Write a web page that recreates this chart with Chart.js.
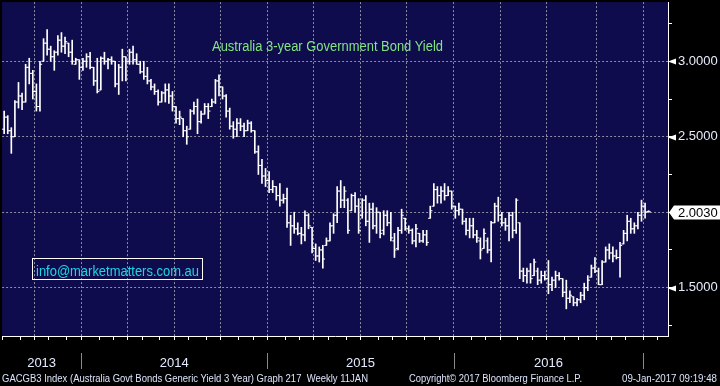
<!DOCTYPE html>
<html><head><meta charset="utf-8">
<script src="https://cdn.jsdelivr.net/npm/chart.js@4.4.1/dist/chart.umd.min.js"></script>
<style>
html,body{margin:0;padding:0;background:#000;}
#wrap{position:relative;width:720px;height:386px;overflow:hidden;background:#000;font-family:"Liberation Sans",Arial,sans-serif;}
canvas{position:absolute;left:0;top:0;}
.t{position:absolute;white-space:pre;line-height:1;transform-origin:0 50%;}
#title{left:212px;top:39px;font-size:14px;color:#84e484;}
#email{position:absolute;left:32px;top:258px;width:171px;height:22px;box-sizing:border-box;border:1px solid #fff;}
#emailTxt{left:36px;top:264px;font-size:14px;color:#1fd6e6;}
.f{top:374px;font-size:10px;color:#dde4fa;}
</style></head>
<body><div id="wrap">
<canvas id="c" width="720" height="386"></canvas>
<div id="title" class="t">Australia 3-year Government Bond Yield</div>
<div id="email"></div>
<div id="emailTxt" class="t">info@marketmatters.com.au</div>
<div id="f1" class="t f" style="left:2px">GACGB3 Index (Australia Govt Bonds Generic Yield 3 Year) Graph 217  Weekly 11JAN</div>
<div id="f2" class="t f" style="left:409px">Copyright© 2017 Bloomberg Finance L.P.</div>
<div id="f3" class="t f" style="left:622px">09-Jan-2017 09:19:48</div>
</div>
<script>
// ---- data: weekly bars (week ending Friday), first bar 2 Aug 2013, last 13 Jan 2017 ----
const firstWeek = '2013-08-02';
const highs = [2.67,2.64,2.56,2.74,2.86,2.79,2.98,3.02,2.94,2.85, 3.00,3.15,3.21,3.10,3.07,3.17,3.19,3.16,3.12,3.14,
 3.02,3.01,3.02,3.05,3.06,2.96,3.02,3.03,3.06,3.02, 3.03,3.00,2.98,3.08,3.03,3.08,3.10,3.05,3.00,3.00,
 2.96,2.88,2.85,2.81,2.80,2.85,2.85,2.80,2.70,2.67, 2.62,2.57,2.68,2.73,2.75,2.67,2.72,2.72,2.75,2.88,
 2.91,2.83,2.78,2.69,2.60,2.62,2.62,2.59,2.61,2.60, 2.54,2.44,2.35,2.29,2.27,2.21,2.17,2.19,2.12,2.16,
 1.98,2.00,1.93,1.90,2.01,1.99,1.90,1.79,1.77,1.78, 1.83,1.93,1.99,2.17,2.21,2.17,2.09,2.12,2.13,2.09,
 2.09,2.11,2.06,2.06,2.03,2.00,2.01,2.01,2.00,1.86, 1.90,2.02,1.96,1.91,1.89,1.92,1.86,1.88,1.88,2.04,
 2.19,2.17,2.17,2.19,2.17,2.14,2.04,2.06,2.02,1.96, 1.96,1.96,1.88,1.83,1.89,1.83,1.94,2.06,2.10,2.00,
 1.96,2.00,2.00,2.09,1.93,1.63,1.63,1.66,1.69,1.63, 1.61,1.61,1.68,1.57,1.61,1.60,1.56,1.55,1.48,1.44,
 1.43,1.47,1.53,1.58,1.65,1.70,1.63,1.68,1.77,1.79, 1.77,1.75,1.80,1.88,1.98,1.96,1.93,2.00,2.08,2.06,
 2.01];
const lows = [2.52,2.52,2.39,2.50,2.69,2.68,2.73,2.85,2.75,2.67, 2.67,3.00,3.04,3.00,2.94,3.04,3.06,3.05,3.03,2.98,
 2.98,2.88,2.94,2.96,2.95,2.84,2.79,2.81,2.98,2.95, 2.98,2.83,2.78,2.87,2.87,2.98,2.98,2.98,2.92,2.88,
 2.85,2.81,2.78,2.71,2.73,2.73,2.72,2.67,2.59,2.58, 2.50,2.45,2.55,2.65,2.52,2.59,2.65,2.62,2.70,2.72,
 2.77,2.75,2.63,2.55,2.49,2.50,2.54,2.50,2.54,2.53, 2.39,2.25,2.19,2.17,2.13,2.13,2.08,2.04,2.06,1.90,
 1.78,1.86,1.85,1.79,1.81,1.89,1.73,1.68,1.67,1.63, 1.78,1.81,1.86,1.93,2.03,2.03,1.86,2.01,2.00,1.86,
 1.96,1.91,1.80,1.89,1.86,1.83,1.85,1.91,1.81,1.70, 1.75,1.86,1.88,1.86,1.79,1.77,1.80,1.80,1.78,1.96,
 2.04,2.06,2.06,2.08,2.11,2.02,1.96,1.98,1.92,1.85, 1.83,1.83,1.80,1.69,1.76,1.73,1.67,1.93,1.94,1.91,
 1.88,1.81,1.83,1.86,1.56,1.54,1.53,1.53,1.58,1.52, 1.53,1.55,1.46,1.48,1.50,1.55,1.44,1.36,1.40,1.38,
 1.38,1.40,1.42,1.48,1.57,1.60,1.52,1.52,1.67,1.69, 1.67,1.69,1.57,1.79,1.81,1.86,1.86,1.89,1.94,1.96,
 2.00];
const opens = [2.55,2.63,2.54,2.50,2.73,2.77,2.73,2.96,2.92,2.80, 2.70,3.00,3.12,3.08,3.03,3.06,3.14,3.10,3.12,3.06,
 2.98,3.01,2.96,3.00,3.03,2.96,2.87,2.81,3.02,3.00, 3.01,3.00,2.85,2.96,3.03,3.00,3.06,3.01,2.98,2.93,
 2.90,2.87,2.83,2.80,2.73,2.79,2.81,2.77,2.70,2.62, 2.62,2.54,2.55,2.67,2.70,2.60,2.65,2.70,2.70,2.73,
 2.87,2.83,2.77,2.67,2.57,2.55,2.59,2.57,2.54,2.59, 2.54,2.40,2.31,2.24,2.21,2.15,2.17,2.11,2.08,2.09,
 1.93,1.91,1.89,1.86,1.85,1.98,1.90,1.76,1.71,1.75, 1.78,1.81,1.91,1.98,2.14,2.08,2.08,2.01,2.11,2.04,
 1.98,2.08,1.94,2.02,1.91,2.00,1.88,1.98,1.93,1.81, 1.76,1.88,1.96,1.89,1.88,1.81,1.86,1.81,1.85,1.96,
 2.04,2.15,2.11,2.14,2.11,2.14,2.04,2.01,2.02,1.94, 1.88,1.91,1.85,1.81,1.76,1.81,1.75,1.93,2.04,1.98,
 1.93,1.91,1.98,1.88,1.93,1.61,1.58,1.61,1.58,1.61, 1.55,1.58,1.56,1.52,1.55,1.58,1.56,1.47,1.43,1.44,
 1.40,1.42,1.45,1.50,1.57,1.63,1.61,1.52,1.67,1.75, 1.73,1.71,1.70,1.79,1.86,1.94,1.89,1.91,1.98,2.04,
 2.005];
const closes = [2.63,2.54,2.50,2.73,2.77,2.73,2.96,2.92,2.80,2.70, 2.98,3.12,3.08,3.03,3.06,3.14,3.10,3.13,3.06,3.00,
 3.01,2.96,3.00,3.03,2.96,2.87,2.80,3.02,3.00,3.01, 3.00,2.85,2.96,3.03,3.00,3.06,3.01,2.98,2.93,2.90,
 2.87,2.83,2.80,2.73,2.79,2.81,2.77,2.70,2.62,2.63, 2.54,2.50,2.67,2.70,2.60,2.65,2.70,2.67,2.73,2.87,
 2.83,2.77,2.67,2.57,2.55,2.59,2.57,2.54,2.59,2.54, 2.40,2.31,2.24,2.21,2.15,2.17,2.11,2.08,2.09,1.93,
 1.91,1.89,1.86,1.85,1.98,1.91,1.76,1.71,1.75,1.69, 1.81,1.91,1.98,2.14,2.08,2.14,1.88,2.11,2.04,1.88,
 2.08,1.94,2.02,1.91,2.00,1.86,1.98,1.93,1.83,1.75, 1.88,1.98,1.89,1.88,1.81,1.89,1.81,1.85,1.80,2.01,
 2.15,2.11,2.14,2.11,2.14,2.04,2.01,2.02,1.94,1.88, 1.91,1.85,1.83,1.75,1.86,1.75,1.93,2.04,1.98,1.93,
 1.91,1.98,1.88,2.08,1.61,1.58,1.61,1.56,1.67,1.55, 1.58,1.56,1.52,1.55,1.58,1.56,1.47,1.43,1.45,1.40,
 1.42,1.45,1.50,1.55,1.63,1.61,1.52,1.67,1.75,1.73, 1.71,1.70,1.78,1.86,1.94,1.89,1.91,1.98,2.04,2.00,
 2.003];
const yTickValues = [1.25,1.5,1.75,2.0,2.25,2.5,2.75,3.0,3.25];
const yTickLabels = ['','1.5000','','','','2.5000','','3.0000',''];
const yearLabels = ['2013','2014','2015','2016'];

// ---- categories: week-ending dates ----
const d0 = new Date(firstWeek + 'T00:00:00Z');
const weekDates = [];
for (let i = 0; i < 186; i++) weekDates.push(new Date(d0.getTime() + i * 7 * 86400000));
const n = highs.length;

// axis structure derived from the weekly categories
const xMin = -0.576, xMax = 185.4;
const monthTicks = [], quarterTicks = new Set(), yearBounds = [];
weekDates.forEach((d, i) => {
  const m = d.getUTCMonth();
  if (i === 0 || m !== weekDates[i - 1].getUTCMonth()) {
    const v = i - 0.5;
    if (v >= xMin && v <= xMax) {
      monthTicks.push(v);
      if (m % 3 === 0) quarterTicks.add(v);
      if (m === 0) yearBounds.push(v);
    }
  }
});
const yearMids = [(xMin + yearBounds[0]) / 2];
for (let k = 0; k < yearBounds.length - 1; k++) yearMids.push((yearBounds[k] + yearBounds[k + 1]) / 2);

const gridColor = '#8e8ea2';
const navy = '#0f0c4d';
const FONT = '"Liberation Sans", Arial, sans-serif';

const decor = {
  id: 'decor',
  beforeDraw(chart) {
    const {ctx, chartArea: a} = chart;
    ctx.save();
    ctx.fillStyle = '#000';
    ctx.fillRect(0, 0, chart.width, chart.height);
    ctx.fillStyle = navy;
    ctx.fillRect(a.left, a.top, a.right - a.left, a.bottom - a.top);
    ctx.restore();
  },
  afterDraw(chart) {
    const {ctx, chartArea: a} = chart;
    const ys = chart.scales.y, xs = chart.scales.x;
    ctx.save();
    // tick pointers
    ctx.fillStyle = '#fff';
    yTickValues.forEach((v, i) => {
      if (!yTickLabels[i]) return;
      const y = Math.round(ys.getPixelForValue(v)) + 0.5;
      ctx.beginPath();
      ctx.moveTo(a.right, y);
      ctx.lineTo(a.right + 8, y - 3);
      ctx.lineTo(a.right + 8, y + 3);
      ctx.closePath();
      ctx.fill();
    });
    // last price tag
    const last = closes[n - 1];
    const yl = Math.round(ys.getPixelForValue(last)) + 0.5;
    ctx.beginPath();
    ctx.moveTo(a.right + 1, yl);
    ctx.lineTo(a.right + 6, yl - 7);
    ctx.lineTo(720, yl - 7);
    ctx.lineTo(720, yl + 7);
    ctx.lineTo(a.right + 6, yl + 7);
    ctx.closePath();
    ctx.fill();
    ctx.fillStyle = '#000';
    ctx.font = '13px ' + FONT;
    ctx.textBaseline = 'middle';
    ctx.textAlign = 'left';
    ctx.fillText(last.toFixed(4), a.right + 10, yl + 0.5);
    // year separators
    ctx.strokeStyle = '#8a8a8a';
    ctx.lineWidth = 1;
    yearBounds.forEach(v => {
      const x = Math.round(xs.getPixelForValue(v)) + 0.5;
      ctx.beginPath();
      ctx.moveTo(x, 353);
      ctx.lineTo(x, 369);
      ctx.stroke();
    });
    ctx.restore();
  }
};

new Chart(document.getElementById('c'), {
  data: {
    datasets: [
      {
        type: 'bar',
        data: highs.map((h, i) => ({x: i, y: [lows[i], h]})),
        backgroundColor: '#ffffff',
        borderWidth: 0,
        barThickness: 1,
        grouped: false,
        order: 2
      },
      {
        type: 'scatter',
        data: opens.map((o, i) => ({x: i - 0.3, y: o})),
        pointStyle: 'line',
        pointRadius: 1.1,
        pointHoverRadius: 1.1,
        borderColor: '#ffffff',
        borderWidth: 1,
        order: 1
      },
      {
        type: 'scatter',
        data: closes.map((c, i) => ({x: i + 0.3, y: c})),
        pointStyle: 'line',
        pointRadius: 1.1,
        pointHoverRadius: 1.1,
        borderColor: '#ffffff',
        borderWidth: 1,
        order: 1
      }
    ]
  },
  options: {
    responsive: false,
    animation: false,
    events: [],
    layout: {padding: 0},
    plugins: {legend: {display: false}, tooltip: {enabled: false}, title: {display: false}},
    scales: {
      x: {
        type: 'linear', position: 'bottom', weight: 0, min: xMin, max: xMax, offset: false,
        afterBuildTicks: s => { s.ticks = monthTicks.map(v => ({value: v})); },
        ticks: {display: false},
        grid: {
          offset: false,
          color: c => (c.tick && quarterTicks.has(c.tick.value)) ? gridColor : 'rgba(0,0,0,0)',
          tickColor: '#ffffff', tickLength: 4, lineWidth: 1
        },
        border: {color: '#ffffff', width: 1, dash: [2, 2]},
        afterFit: s => { s.height = 5; s.paddingLeft = 0; s.paddingRight = 0; }
      },
      x2: {
        type: 'linear', position: 'bottom', weight: 1, min: xMin, max: xMax, offset: false,
        afterBuildTicks: s => { s.ticks = yearMids.map(v => ({value: v})); },
        ticks: {
          callback: (v, i) => yearLabels[i],
          color: '#e6ecff', font: {size: 13, family: FONT}, padding: 15,
          maxRotation: 0, autoSkip: false
        },
        grid: {display: false, drawTicks: false, offset: false},
        border: {display: false},
        afterFit: s => { s.height = 45; s.paddingLeft = 0; s.paddingRight = 0; }
      },
      y: {
        type: 'linear', position: 'right', min: 1.18, max: 3.392,
        afterBuildTicks: s => { s.ticks = yTickValues.map(v => ({value: v})); },
        ticks: {
          callback: (v, i) => yTickLabels[i],
          color: '#e6ecff', font: {size: 13, family: FONT}, padding: 6, autoSkip: false
        },
        grid: {
          color: c => (c.tick && (c.tick.value * 2) % 1 === 0) ? gridColor : 'rgba(0,0,0,0)',
          tickColor: '#ffffff', tickLength: 4, lineWidth: 1
        },
        border: {color: '#ffffff', width: 1, dash: [2, 2]},
        afterFit: s => { s.width = 52; s.paddingTop = 0; s.paddingBottom = 0; }
      }
    }
  },
  plugins: [decor]
});

// fit overlay text widths to the reference
function fit(id, w) {
  const el = document.getElementById(id);
  const cw = el.getBoundingClientRect().width;
  if (cw > 0) el.style.transform = 'scaleX(' + (w / cw) + ')';
}
fit('title', 231);
fit('emailTxt', 163);
fit('f1', 366);
fit('f2', 173);
fit('f3', 95);
</script>
</body></html>
